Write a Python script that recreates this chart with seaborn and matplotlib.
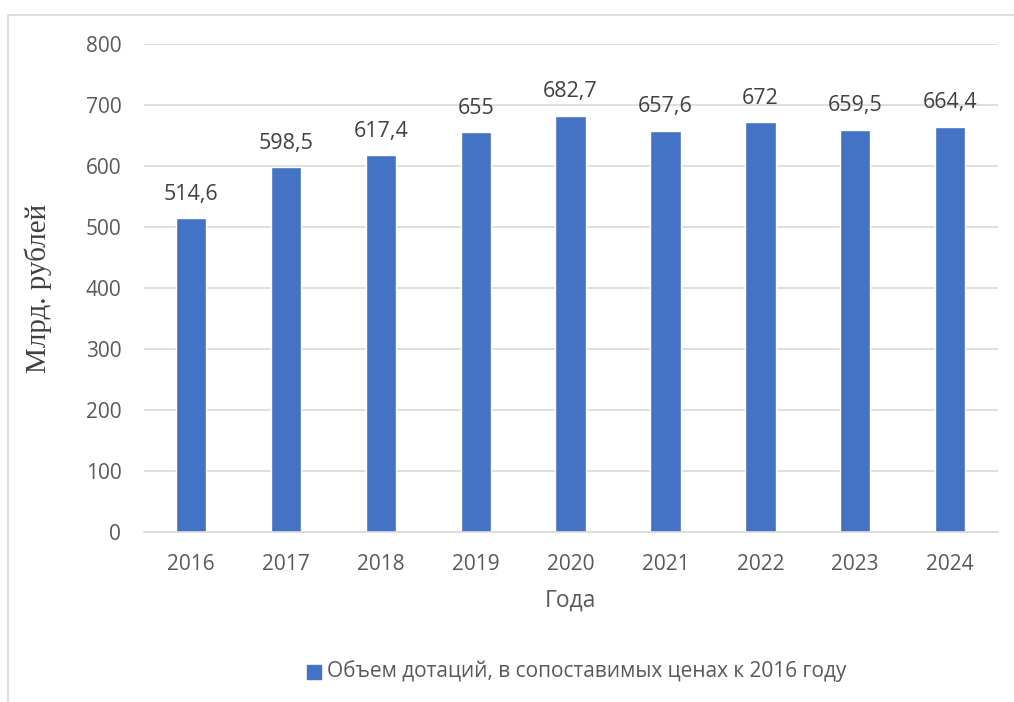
import numpy as np
import pandas as pd
import matplotlib.pyplot as plt
import seaborn as sns
from matplotlib.patches import Rectangle

sns.set_theme(style="white")
plt.rcParams["font.family"] = ["Open Sans", "DejaVu Sans"]

years = ["2016", "2017", "2018", "2019", "2020", "2021", "2022", "2023", "2024"]
values = [514.6, 598.5, 617.4, 655.0, 682.7, 657.6, 672.0, 659.5, 664.4]
labels = ["514,6", "598,5", "617,4", "655", "682,7", "657,6", "672", "659,5", "664,4"]
series_name = "Объем дотаций, в сопоставимых ценах к 2016 году"

df = pd.DataFrame({"year": years, "value": values, "series": series_name})

fig = plt.figure(figsize=(10.14, 7.02), dpi=100)
ax = fig.add_axes([0.1416, 0.2422, 0.8422, 0.6951])

bar_color = "#4472C4"
sns.barplot(data=df, x="year", y="value", hue="series", palette=[bar_color],
            width=0.32, saturation=1, ax=ax, legend=False)

ax.set_ylim(0, 800)
ax.set_yticks(np.arange(0, 801, 100))
ax.yaxis.grid(True, color="#D9D9D9", linewidth=1.2)
ax.set_axisbelow(True)
for s in ["top", "right", "left"]:
    ax.spines[s].set_visible(False)
ax.spines["bottom"].set_color("#D9D9D9")
ax.spines["bottom"].set_linewidth(1.2)
ax.tick_params(axis="both", length=0, labelsize=15, labelcolor="#595959")
ax.tick_params(axis="y", pad=16)
ax.tick_params(axis="x", pad=16)

for i, (v, t) in enumerate(zip(values, labels)):
    ax.text(i, v + 22, t, ha="center", va="bottom", fontsize=15.5, color="#404040")

ax.set_xlabel("Года", fontsize=16.5, color="#595959", labelpad=10)
ax.set_ylabel("Млрд. рублей", fontsize=21, color="#404040",
              family="Liberation Serif", labelpad=24)

# legend
fig.patches.append(Rectangle((307 / 1014, 1 - 679 / 702), 14 / 1014, 14 / 702,
                             transform=fig.transFigure, color=bar_color))
fig.text(327 / 1014, 1 - 671 / 702, series_name, fontsize=15, color="#595959",
         va="center", ha="left")

# chart frame
fig.patches.append(Rectangle((8 / 1014, -0.1), 1.2, 1.1 - 15 / 702,
                             transform=fig.transFigure, fill=False,
                             edgecolor="#D9D9D9", linewidth=1.2))

fig.savefig("out.png", dpi=100)
